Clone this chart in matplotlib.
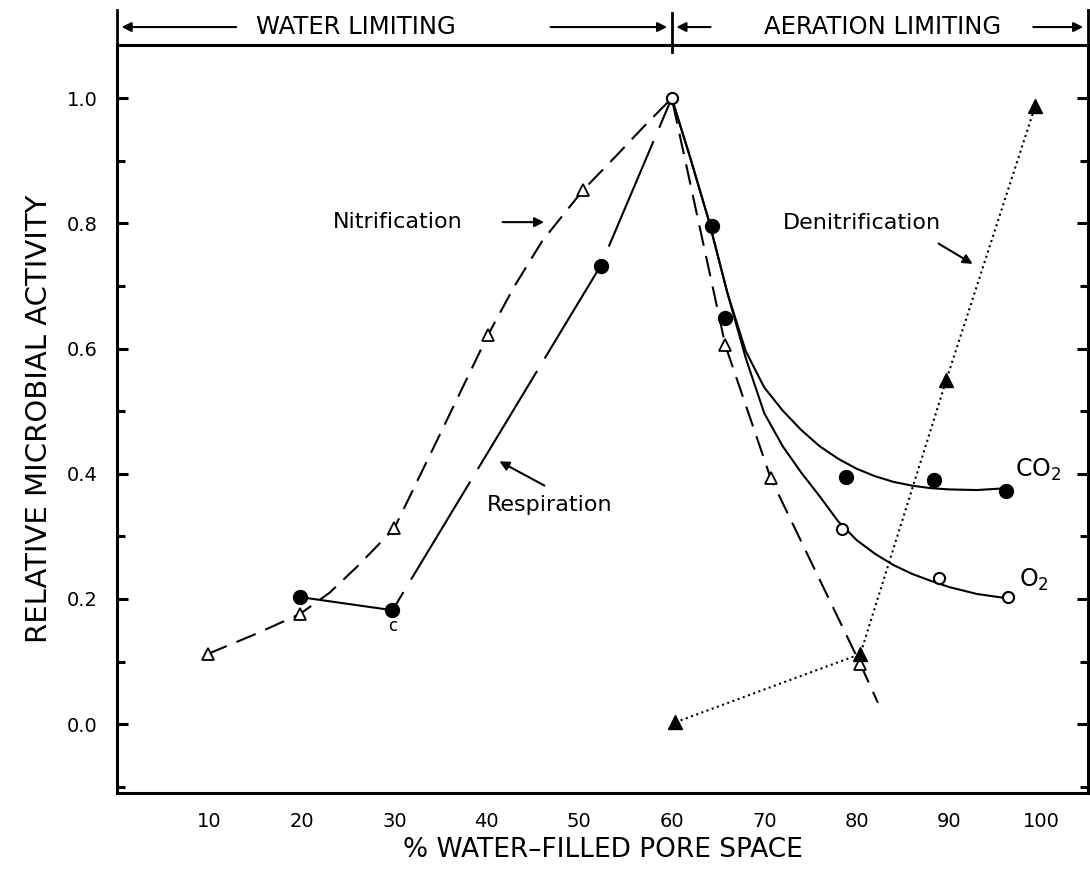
import numpy as np
import matplotlib
matplotlib.use("Agg")
import matplotlib.pyplot as plt
import matplotlib.transforms as mtransforms
from matplotlib.ticker import MultipleLocator

# respiration (filled circles, open circle at the peak)
resp_x = [19.8, 29.8, 52.3, 60.0]
resp_y = [0.203, 0.182, 0.732, 1.0]

# CO2 evolution and O2 uptake above 60 %
co2_x = [64.4, 65.8, 78.8, 88.4, 96.2]
co2_y = [0.796, 0.649, 0.395, 0.390, 0.372]
o2_x = [60.0, 78.4, 88.9, 96.4]
o2_y = [1.0, 0.311, 0.233, 0.203]

# fitted curves for CO2 and O2
co2_curve_x = [60.0, 62.0, 64.0, 66.0, 68.0, 70.0, 72.0, 74.0, 76.0, 78.0, 80.0,
               82.0, 84.0, 86.0, 88.0, 90.0, 93.0, 96.3]
co2_curve_y = [1.0, 0.905, 0.805, 0.690, 0.596, 0.538, 0.501, 0.470, 0.444, 0.424,
               0.408, 0.396, 0.387, 0.381, 0.377, 0.375, 0.374, 0.377]
o2_curve_x = [60.0, 62.0, 64.0, 66.0, 68.0, 70.0, 72.0, 74.0, 76.0, 78.0, 80.0,
              82.0, 84.0, 86.0, 88.0, 90.0, 93.0, 96.3]
o2_curve_y = [1.0, 0.905, 0.805, 0.690, 0.585, 0.497, 0.444, 0.402, 0.364, 0.324,
              0.294, 0.272, 0.254, 0.240, 0.229, 0.219, 0.208, 0.201]

# nitrification (open triangles) and its dashed curve
nitr_x = [9.8, 19.8, 30.0, 40.1, 50.4, 65.8, 70.7, 80.4]
nitr_y = [0.112, 0.176, 0.313, 0.621, 0.853, 0.605, 0.393, 0.096]
nitr_curve_x = [9.8, 15.0, 19.8, 23.0, 26.0, 30.0, 35.0, 40.1, 43.0, 46.0, 50.4,
                54.0, 57.0, 60.0, 65.8, 70.7, 80.4, 82.3]
nitr_curve_y = [0.112, 0.144, 0.176, 0.210, 0.252, 0.313, 0.465, 0.621, 0.700,
                0.772, 0.853, 0.908, 0.955, 1.0, 0.605, 0.393, 0.096, 0.034]

# denitrification (filled triangles)
denit_x = [60.4, 80.4, 89.7, 99.3]
denit_y = [0.003, 0.112, 0.550, 0.987]

x_ticks = [10, 20, 30, 40, 50, 60, 70, 80, 90, 100]
y_ticks = [0.0, 0.2, 0.4, 0.6, 0.8, 1.0]

plt.rcParams['font.family'] = ['DejaVu Sans']

fig = plt.figure(figsize=(10.9, 8.72), dpi=100)
ax = fig.add_axes([0.1073, 0.0906, 0.8907, 0.8578])

lw = 1.5
ax.plot(resp_x, resp_y, color='k', lw=lw, dashes=(55, 7))
ax.plot(resp_x[:3], resp_y[:3], 'o', color='k', ms=10)
ax.plot(co2_curve_x, co2_curve_y, color='k', lw=lw)
ax.plot(o2_curve_x, o2_curve_y, color='k', lw=lw)
ax.plot(co2_x, co2_y, 'o', color='k', ms=10)
ax.plot(o2_x, o2_y, 'o', mfc='white', mec='k', mew=1.5, ms=8)

ax.plot(nitr_curve_x, nitr_curve_y, color='k', lw=lw, dashes=(10, 5))
ax.plot(nitr_x, nitr_y, '^', mfc='white', mec='k', mew=1.3, ms=8)

ax.plot(denit_x, denit_y, color='k', lw=lw, linestyle=':')
ax.plot(denit_x, denit_y, '^', color='k', ms=10)

ax.set_xlim(0, 105)
ax.set_ylim(-0.110, 1.085)
ax.set_xticks(x_ticks)
ax.set_xticklabels([str(t) for t in x_ticks])
ax.set_yticks(y_ticks)
ax.set_yticklabels(['%.1f' % t for t in y_ticks])
ax.yaxis.set_minor_locator(MultipleLocator(0.1))
ax.tick_params(axis='x', length=0, pad=14, labelsize=14)
ax.tick_params(axis='y', which='both', direction='in', right=True, width=2.2,
               labelsize=14, pad=14)
ax.tick_params(axis='y', which='major', length=8)
ax.tick_params(axis='y', which='minor', length=6)
for sp in ax.spines.values():
    sp.set_linewidth(2.2)

ax.set_xlabel('% WATER\u2013FILLED PORE SPACE', fontsize=19, labelpad=4)
ax.set_ylabel('RELATIVE MICROBIAL ACTIVITY', fontsize=21, labelpad=10)

# curve labels
arrow = dict(arrowstyle='-|>', color='k', lw=1.5, mutation_scale=14)
ax.text(23.4, 0.802, 'Nitrification', fontsize=16, va='center')
ax.annotate('', xy=(46.5, 0.802), xytext=(41.4, 0.802), arrowprops=arrow)
ax.text(40.0, 0.35, 'Respiration', fontsize=16, va='center')
ax.annotate('', xy=(41.1, 0.422), xytext=(46.5, 0.379), arrowprops=arrow)
ax.text(72.0, 0.80, 'Denitrification', fontsize=16, va='center')
ax.annotate('', xy=(92.8, 0.733), xytext=(88.6, 0.77), arrowprops=arrow)
ax.text(97.1, 0.406, 'CO$_2$', fontsize=17, va='center')
ax.text(97.6, 0.23, 'O$_2$', fontsize=17, va='center')
ax.text(29.8, 0.157, 'c', fontsize=12, ha='center', va='center')

# water / aeration limiting bracket above the frame
trans = mtransforms.blended_transform_factory(ax.transData, ax.transAxes)
hy = 1.024
for bx, y0, y1 in [(0, 1.0, 1.047), (60, 0.99, 1.043), (105, 1.0, 1.047)]:
    ax.plot([bx, bx], [y0, y1], color='k', lw=2, transform=trans, clip_on=False)
for x_from, x_to in [(13.2, 0.2), (46.6, 59.8), (64.5, 60.2), (98.8, 104.8)]:
    ax.annotate('', xy=(x_to, hy), xytext=(x_from, hy), xycoords=trans,
                textcoords=trans, arrowprops=arrow, annotation_clip=False)
ax.text(25.8, hy, 'WATER LIMITING', fontsize=17.5, ha='center', va='center',
        transform=trans)
ax.text(82.8, hy, 'AERATION LIMITING', fontsize=17.5, ha='center', va='center',
        transform=trans)

fig.savefig('out.png', dpi=100)
